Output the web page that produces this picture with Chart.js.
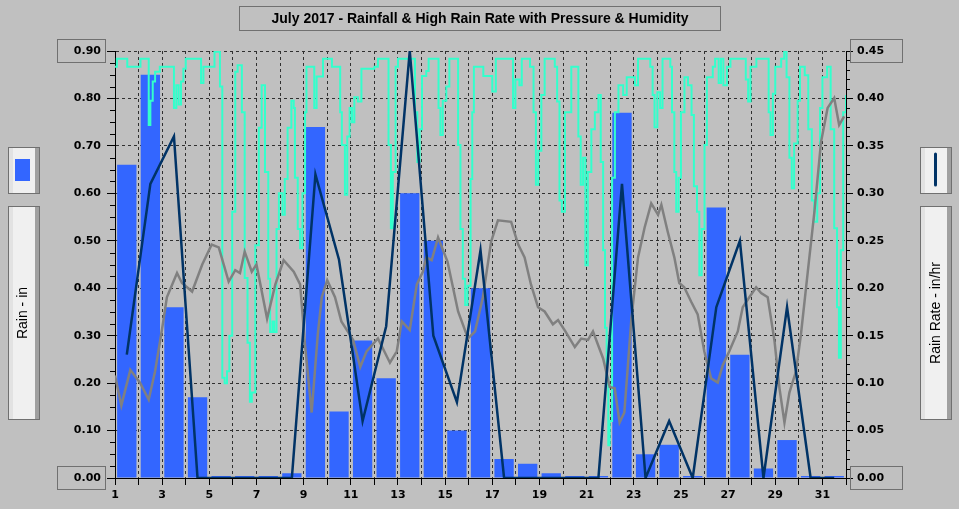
<!DOCTYPE html>
<html>
<head>
<meta charset="utf-8">
<script src="https://cdn.jsdelivr.net/npm/chart.js@4.4.1/dist/chart.umd.min.js"></script>
<style>
  html, body { margin: 0; padding: 0; background: #c0c0c0; }
  #wrap { width: 959px; height: 509px; }
</style>
</head>
<body>
<div id="wrap"><canvas id="myChart" width="959" height="509"></canvas></div>
<script>
const chartTitle = 'July 2017 - Rainfall & High Rain Rate with Pressure & Humidity';
const days = [1,2,3,4,5,6,7,8,9,10,11,12,13,14,15,16,17,18,19,20,21,22,23,24,25,26,27,28,29,30,31];
// daily rain (in)
const dailyRain = [0.66,0.85,0.36,0.17,0,0,0,0.01,0.74,0.14,0.29,0.21,0.60,0.50,0.10,0.40,
                   0.04,0.03,0.01,0,0,0.77,0.05,0.07,0,0.57,0.26,0.02,0.08,0,0];
// high rain rate (in/hr)
const highRate = [0.13,0.31,0.36,0,0,0,0,0,0.32,0.23,0.06,0.16,0.45,0.15,0.08,0.24,
                  0,0,0,0,0,0.31,0,0.06,0,0.18,0.25,0,0.18,0,0];

// barometer (inHg), time in days
const pressTime = [1.00,1.27,1.65,2.06,2.43,2.70,3.00,3.20,3.63,3.84,4.27,4.70,5.10,5.40,5.82,6.10,6.30,6.50,6.80,7.00,
  7.45,7.80,8.15,8.58,8.85,9.06,9.34,9.60,9.77,10.00,10.33,10.60,11.10,11.40,11.67,12.15,12.66,12.95,13.16,13.50,
  13.80,14.06,14.20,14.43,14.70,15.10,15.55,15.97,16.27,16.60,16.95,17.24,17.80,18.10,18.37,18.64,18.94,19.22,19.57,19.79,
  20.10,20.50,20.77,21.06,21.27,21.70,21.98,22.19,22.40,22.60,22.90,23.18,23.46,23.74,24.03,24.17,24.44,24.72,24.93,25.14,
  25.43,25.71,25.99,26.28,26.56,26.77,27.05,27.41,27.62,27.90,28.19,28.40,28.68,28.97,29.18,29.39,29.60,29.88,30.09,30.38,
  30.66,30.94,31.22,31.50,31.71,31.92];
const pressure = [29.872,29.851,29.876,29.867,29.855,29.875,29.905,29.927,29.944,29.937,29.931,29.950,29.964,29.962,29.938,29.946,29.944,29.959,29.945,29.950,
  29.912,29.936,29.953,29.945,29.936,29.893,29.846,29.901,29.927,29.939,29.927,29.910,29.897,29.878,29.889,29.898,29.881,29.889,29.910,29.904,
  29.936,29.945,29.955,29.953,29.969,29.952,29.917,29.898,29.903,29.927,29.966,29.981,29.980,29.964,29.955,29.936,29.920,29.917,29.908,29.911,
  29.903,29.892,29.898,29.897,29.903,29.884,29.864,29.863,29.839,29.846,29.912,29.955,29.976,29.993,29.985,29.992,29.973,29.955,29.937,29.934,
  29.924,29.915,29.889,29.870,29.867,29.879,29.889,29.903,29.920,29.927,29.934,29.930,29.927,29.896,29.863,29.839,29.860,29.875,29.901,29.945,
  29.987,30.036,30.060,30.067,30.048,30.054];

// outside humidity (%), time in days
const humTime = [1.00,1.08,1.50,1.52,2.05,2.08,2.38,2.43,2.50,2.60,2.70,2.90,3.40,3.50,3.60,3.70,3.80,3.90,4.00,4.60,
  4.65,4.75,5.10,5.22,5.38,5.45,5.55,5.65,5.75,5.85,5.97,6.10,6.20,6.38,6.50,6.62,6.72,6.80,6.95,7.10,
  7.22,7.36,7.50,7.58,7.68,7.75,7.85,7.95,8.10,8.20,8.32,8.48,8.58,8.63,8.75,8.85,8.95,9.06,9.12,9.35,
  9.45,9.55,9.75,9.82,10.20,10.45,10.55,10.62,10.75,10.85,10.95,11.05,11.15,11.30,11.45,12.00,12.15,12.50,12.60,12.70,
  12.78,12.90,13.00,13.65,13.72,13.82,13.92,14.02,14.20,14.30,14.62,14.72,14.80,14.90,15.05,15.18,15.50,15.55,15.65,15.75,
  15.85,15.95,16.08,16.15,16.22,16.55,16.62,16.90,17.00,17.15,17.82,17.88,17.98,18.15,18.25,18.60,18.75,18.85,18.95,19.08,
  19.22,19.65,19.75,19.85,19.95,20.08,20.35,20.58,20.65,20.75,20.85,20.95,21.05,21.20,21.35,21.50,21.60,21.70,21.78,21.85,
  21.92,21.98,22.08,22.20,22.35,22.55,22.70,23.05,23.18,23.70,23.80,23.88,24.00,24.12,24.22,24.55,24.62,24.72,24.80,24.90,
  25.00,25.15,25.30,25.45,25.55,25.68,25.78,25.88,26.00,26.10,26.35,26.45,26.60,26.70,26.80,26.95,27.10,27.62,27.75,27.85,
  27.95,28.20,28.62,28.72,28.80,28.90,29.00,29.25,29.38,29.48,29.60,29.70,29.80,29.95,30.05,30.25,30.40,30.55,30.65,30.78,
  30.90,31.00,31.20,31.35,31.50,31.62,31.70,31.78,31.88,32.00];
const humidity = [97.8,98.9,98.9,97.8,97.8,98.9,98.9,89.6,93.0,95.7,97.1,97.8,97.8,92.0,95.2,92.5,95.7,97.5,98.9,98.9,
  95.5,97.8,97.8,99.9,99.9,95.0,54.1,53.3,55.0,60.0,77.4,97.1,98.0,91.4,68.1,59.0,50.7,52.0,72.7,89.2,
  95.2,83.0,68.0,60.5,62.0,60.5,75.0,80.0,77.0,82.0,89.2,93.0,92.0,82.2,75.0,72.3,80.0,91.4,97.8,97.8,
  92.0,96.4,96.4,98.9,97.8,97.8,91.4,86.8,79.8,88.0,92.0,90.0,93.5,92.9,97.5,97.8,98.9,98.9,86.8,75.1,
  83.0,97.8,98.9,98.9,91.4,84.4,89.0,96.5,97.2,98.9,98.9,92.0,88.2,93.0,95.0,98.9,98.9,86.8,75.0,68.0,
  64.3,67.0,82.0,91.4,97.8,97.8,96.5,96.5,94.3,98.9,98.9,92.0,96.0,95.2,98.9,97.8,91.4,81.2,86.0,93.8,
  98.9,97.8,92.9,79.0,77.4,91.4,97.8,97.8,88.0,81.2,85.0,69.9,83.0,89.0,91.4,93.8,84.4,72.0,61.1,54.1,
  44.6,48.0,82.2,91.4,95.2,93.8,96.3,95.2,98.9,97.8,93.8,89.3,94.2,92.0,98.9,97.8,91.4,83.0,77.4,82.2,
  91.4,96.3,95.2,91.0,81.0,77.4,68.5,75.0,86.8,96.3,97.8,98.9,95.5,98.9,95.2,97.8,98.9,98.9,96.0,92.9,
  97.8,98.9,98.9,91.4,88.2,94.0,97.8,98.9,99.9,96.3,85.0,80.7,87.0,93.0,97.8,96.6,89.0,79.0,76.0,80.0,
  92.0,96.3,97.8,89.0,75.1,64.0,56.9,72.0,91.4,93.8];

const tickFont = { family: 'DejaVu Sans', size: 11, weight: 'bold' };

// frame, boxes, legend and minor ticks drawn around the chart
function box3d(ctx, x, y, w, h) {
    ctx.fillStyle = '#f0f0f0';
    ctx.fillRect(x, y, w, h);
    ctx.fillStyle = '#e2e2e2';
    ctx.fillRect(x + 1, y + 1, 4, h - 2);
    ctx.fillStyle = '#a0a0a0';
    ctx.fillRect(x + w - 5, y + 1, 4, h - 2);
    ctx.strokeStyle = '#707070';
    ctx.lineWidth = 1;
    ctx.strokeRect(x + 0.5, y + 0.5, w - 1, h - 1);
}

const decor = {
    id: 'decor',
    afterDraw(chart) {
        const ctx = chart.ctx;
        const yL = chart.scales.y;
        const yR = chart.scales.yRate;
        ctx.save();

        // minor ticks
        ctx.strokeStyle = '#000';
        ctx.lineWidth = 1;
        ctx.beginPath();
        for (let i = 0; i <= 36; i++) {
            if (i % 4 === 0) continue;
            const p = Math.round(yL.getPixelForValue(i * 0.025)) + 0.5;
            ctx.moveTo(yL.right - 5, p);
            ctx.lineTo(yL.right, p);
        }
        for (let i = 0; i <= 45; i++) {
            if (i % 5 === 0) continue;
            const p = Math.round(yR.getPixelForValue(i * 0.01)) + 0.5;
            ctx.moveTo(yR.left, p);
            ctx.lineTo(yR.left + 4, p);
        }
        ctx.stroke();

        // boxed end labels
        ctx.strokeStyle = '#707070';
        [0, 0.9].forEach(v => {
            const p = Math.round(yL.getPixelForValue(v));
            ctx.strokeRect(57.5, p - 11.5, 48, 23);
        });
        [0, 0.45].forEach(v => {
            const p = Math.round(yR.getPixelForValue(v));
            ctx.strokeRect(850.5, p - 11.5, 52, 23);
        });

        // title
        ctx.strokeRect(239.5, 6.5, 481, 24);
        ctx.fillStyle = '#000';
        ctx.font = 'bold 14px "Liberation Sans", Arial, sans-serif';
        ctx.textAlign = 'center';
        ctx.textBaseline = 'middle';
        ctx.fillText(chartTitle, 480, 19);

        // left legend
        box3d(ctx, 8, 147, 32, 47);
        ctx.fillStyle = '#3366ff';
        ctx.fillRect(15, 159, 15, 22);
        box3d(ctx, 8, 206, 32, 214);

        // right legend
        box3d(ctx, 920, 147, 32, 47);
        ctx.strokeStyle = '#003366';
        ctx.lineWidth = 3;
        ctx.lineCap = 'round';
        ctx.beginPath();
        ctx.moveTo(935.5, 154);
        ctx.lineTo(935.5, 185);
        ctx.stroke();
        box3d(ctx, 920, 206, 32, 214);

        ctx.fillStyle = '#000';
        ctx.font = '14px "Liberation Sans", Arial, sans-serif';
        ctx.save();
        ctx.translate(23, 313);
        ctx.rotate(-Math.PI / 2);
        ctx.fillText('Rain - in', 0, 0);
        ctx.restore();
        ctx.save();
        ctx.translate(936, 313);
        ctx.rotate(-Math.PI / 2);
        ctx.fillText('Rain Rate - in/hr', 0, 0);
        ctx.restore();

        ctx.restore();
    }
};

const config = {
    type: 'line',
    data: {
        datasets: [
            {
                label: 'High Rain Rate',
                data: days.map((d, i) => ({ x: d + 0.5, y: highRate[i] })),
                yAxisID: 'yRate',
                borderColor: '#003366',
                borderWidth: 2.5,
                pointRadius: 0,
                tension: 0,
                order: 0
            },
            {
                label: 'Pressure',
                data: pressTime.map((t, i) => ({ x: t, y: pressure[i] })),
                yAxisID: 'yPress',
                borderColor: '#808080',
                borderWidth: 2.5,
                pointRadius: 0,
                tension: 0,
                order: 1
            },
            {
                label: 'Humidity',
                data: humTime.map((t, i) => ({ x: t, y: humidity[i] })),
                yAxisID: 'yHum',
                borderColor: '#33ffcc',
                borderWidth: 2,
                pointRadius: 0,
                stepped: true,
                order: 2
            },
            {
                type: 'bar',
                label: 'Rain',
                data: days.map((d, i) => ({ x: d + 0.5, y: dailyRain[i] })),
                yAxisID: 'y',
                backgroundColor: '#3366ff',
                barPercentage: 0.82,
                categoryPercentage: 1,
                minBarLength: 2,
                order: 3
            }
        ]
    },
    options: {
        responsive: false,
        animation: false,
        devicePixelRatio: 1,
        layout: { padding: { top: 51, left: 0, right: 0, bottom: 0 } },
        plugins: {
            legend: { display: false },
            title: { display: false },
            tooltip: { enabled: false }
        },
        scales: {
            x: {
                type: 'linear',
                min: 1,
                max: 32,
                offset: false,
                afterFit: s => { s.height = 31; },
                ticks: {
                    stepSize: 1,
                    autoSkip: false,
                    maxRotation: 0,
                    padding: 4,
                    color: '#000',
                    font: tickFont,
                    callback: v => (v % 2 === 1 && v < 32) ? v : ''
                },
                grid: { color: '#303030', lineWidth: 1, tickLength: 7, tickColor: '#000', offset: false },
                border: { color: '#000', width: 1, dash: [3, 3] }
            },
            y: {
                position: 'left',
                min: 0,
                max: 0.9,
                afterFit: s => { s.width = 115; },
                ticks: {
                    stepSize: 0.1,
                    padding: 6,
                    color: '#000',
                    font: tickFont,
                    callback: v => v.toFixed(2)
                },
                grid: { color: '#303030', lineWidth: 1, tickLength: 8, tickColor: '#000' },
                border: { color: '#000', width: 1, dash: [3, 3] }
            },
            yRate: {
                position: 'right',
                min: 0,
                max: 0.45,
                afterFit: s => { s.width = 113; },
                ticks: {
                    stepSize: 0.05,
                    padding: 4,
                    color: '#000',
                    font: tickFont,
                    callback: v => v.toFixed(2)
                },
                grid: { drawOnChartArea: false, tickLength: 7, tickColor: '#000' },
                border: { color: '#000', width: 1 }
            },
            yPress: { display: false, min: 29.80, max: 30.10 },
            yHum: { display: false, min: 40, max: 100 }
        }
    },
    plugins: [decor]
};

const ctx = document.getElementById('myChart').getContext('2d');
window.myChart = new Chart(ctx, config);
</script>
</body>
</html>
